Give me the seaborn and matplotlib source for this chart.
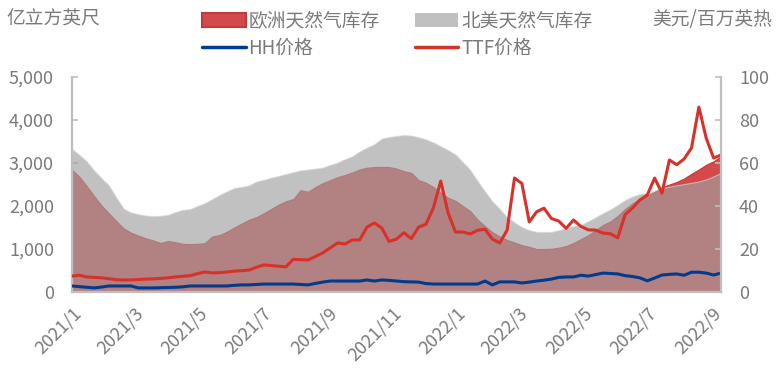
import numpy as np
import pandas as pd
import seaborn as sns
import matplotlib.pyplot as plt
import matplotlib.dates as mdates
from matplotlib.patches import Patch
from matplotlib.lines import Line2D

sns.set_theme(style='white')
plt.rcParams['font.family'] = ['Noto Sans CJK SC', 'DejaVu Sans']
plt.rcParams['axes.unicode_minus'] = False

# weekly data, starting 2021-01-01
start_date = '2021-01-01'

# European gas storage (亿立方英尺)
eu_storage = [2840, 2680, 2460, 2230, 2010, 1830, 1650, 1480, 1380, 1310,
              1250, 1200, 1140, 1185, 1160, 1120, 1115, 1120, 1135, 1290,
              1325, 1400, 1500, 1590, 1680, 1740, 1830, 1930, 2030, 2110,
              2160, 2370, 2330, 2440, 2530, 2600, 2670, 2720, 2780, 2850,
              2890, 2905, 2910, 2905, 2870, 2810, 2770, 2600, 2540, 2440,
              2310, 2190, 2120, 2000, 1880, 1680, 1530, 1390, 1290, 1210,
              1150, 1090, 1050, 1000, 1000, 1005, 1030, 1070, 1140, 1230,
              1320, 1440, 1560, 1640, 1770, 1930, 2060, 2170, 2240, 2330,
              2430, 2500, 2560, 2640, 2750, 2850, 2960, 3040, 3160]

# North American gas storage (亿立方英尺)
na_storage = [3330, 3190, 3040, 2830, 2650, 2480, 2200, 1940, 1850, 1810,
              1780, 1765, 1775, 1795, 1860, 1910, 1930, 2000, 2070, 2160,
              2260, 2340, 2420, 2445, 2480, 2570, 2610, 2660, 2700, 2745,
              2790, 2830, 2850, 2870, 2895, 2960, 3010, 3090, 3160, 3270,
              3360, 3440, 3570, 3605, 3630, 3650, 3640, 3600, 3550, 3480,
              3390, 3300, 3200, 3020, 2840, 2580, 2340, 2110, 1930, 1740,
              1620, 1510, 1440, 1400, 1395, 1400, 1440, 1490, 1530, 1560,
              1650, 1740, 1835, 1920, 2030, 2140, 2220, 2280, 2305, 2360,
              2420, 2450, 2480, 2510, 2540, 2570, 2620, 2690, 2770]

# Henry Hub price (美元/百万英热)
hh_price = [2.8, 2.5, 2.2, 1.9, 2.3, 2.8, 2.8, 2.8, 2.8, 1.9,
            1.9, 1.9, 2.0, 2.1, 2.2, 2.4, 2.8, 2.8, 2.8, 2.8,
            2.8, 2.8, 3.1, 3.3, 3.3, 3.5, 3.7, 3.7, 3.7, 3.7,
            3.7, 3.5, 3.3, 4.0, 4.6, 5.1, 5.1, 5.1, 5.1, 5.1,
            5.6, 5.1, 5.6, 5.4, 5.1, 4.8, 4.7, 4.6, 3.9, 3.7,
            3.7, 3.7, 3.7, 3.7, 3.7, 3.7, 5.1, 3.3, 4.7, 4.7,
            4.7, 4.2, 4.6, 5.1, 5.5, 6.0, 6.8, 7.0, 7.0, 7.8,
            7.4, 8.1, 8.8, 8.6, 8.4, 7.6, 7.2, 6.6, 5.2, 6.5,
            7.9, 8.2, 8.4, 7.8, 9.2, 9.2, 8.8, 7.9, 8.8]

# TTF price (美元/百万英热)
ttf_price = [7.4, 7.8, 7.0, 6.8, 6.6, 6.2, 5.7, 5.6, 5.6, 5.8,
             6.0, 6.1, 6.3, 6.6, 7.0, 7.3, 7.6, 8.5, 9.3, 8.9,
             9.0, 9.3, 9.7, 9.9, 10.2, 11.5, 12.6, 12.3, 12.0, 11.7,
             15.2, 15.0, 14.9, 16.5, 18.2, 20.5, 22.8, 22.3, 24.2, 24.2,
             30.2, 32.1, 29.8, 23.5, 24.6, 27.6, 24.8, 30.2, 31.5, 39.1,
             51.6, 36.7, 27.9, 27.9, 27.0, 28.7, 29.2, 24.6, 22.8, 28.8,
             53.0, 50.5, 32.6, 37.3, 39.0, 34.2, 33.0, 29.6, 33.5, 30.5,
             28.9, 28.8, 27.4, 27.1, 25.2, 36.0, 39.1, 42.8, 45.1, 53.0,
             46.0, 61.4, 59.2, 61.9, 67.0, 86.0, 71.5, 62.3, 63.7]

tick_months = pd.date_range('2021-01-01', '2022-09-01', freq='2MS')
tick_labels = [f'{d.year}/{d.month}' for d in tick_months]

df = pd.DataFrame({
    'date': pd.date_range(start_date, periods=len(eu_storage), freq='7D'),
    'eu': eu_storage,
    'na': na_storage,
    'hh': hh_price,
    'ttf': ttf_price,
})

txt = '#7a7a7a'
spine_c = '#bfbfbf'
red_fill = '#d44a4a'
gray_fill = '#a0a0a0'
hh_c = '#003b8e'
ttf_c = '#d8312a'

fig = plt.figure(figsize=(7.77, 3.87), dpi=100)
ax = fig.add_axes([72 / 777, 1 - 292 / 387, (721 - 72) / 777, (292 - 77) / 387])
ax2 = ax.twinx()

ax.fill_between(df['date'], 0, df['eu'], color=red_fill, edgecolor='#c23a3a',
                linewidth=0.8, zorder=1)
ax.fill_between(df['date'], 0, df['na'], color=gray_fill, alpha=0.65,
                edgecolor='#d8d8d8', linewidth=0.8, zorder=2)

sns.lineplot(data=df, x='date', y='hh', ax=ax2, color=hh_c, linewidth=2.2)
sns.lineplot(data=df, x='date', y='ttf', ax=ax2, color=ttf_c, linewidth=2.2)

ax.set_xlim(df['date'].iloc[0], df['date'].iloc[-1])
ax.set_ylim(0, 5000)
ax2.set_ylim(0, 100)
ax.set_yticks(range(0, 5001, 1000))
ax.set_yticklabels([f'{v:,}' for v in range(0, 5001, 1000)])
ax2.set_yticks(range(0, 101, 20))
ax.set_xticks(mdates.date2num(tick_months))
ax.set_xticklabels(tick_labels, rotation=45, ha='right', rotation_mode='anchor')
ax.set_xlabel('')
ax.set_ylabel('')
ax2.set_xlabel('')
ax2.set_ylabel('')

for a in (ax, ax2):
    a.grid(False)
    a.set_facecolor('none')
    for s in a.spines.values():
        s.set_visible(False)
        s.set_color(spine_c)
        s.set_linewidth(1.6)
ax.spines['left'].set_visible(True)
ax.spines['bottom'].set_visible(True)
ax2.spines['right'].set_visible(True)

ax.tick_params(axis='y', direction='in', length=4, width=1.2, color=spine_c,
               labelsize=13, labelcolor=txt, pad=13, left=True)
ax.tick_params(axis='x', direction='in', length=5, width=1.2, color=spine_c,
               labelsize=13, labelcolor=txt, pad=9, bottom=True)
ax2.tick_params(axis='y', direction='in', length=4, width=1.2, color=spine_c,
                labelsize=13, labelcolor=txt, pad=13, right=True)

fig.text(6 / 777, 1 - 19 / 387, '亿立方英尺', fontsize=13.5, color=txt, va='center')
fig.text(772 / 777, 1 - 19 / 387, '美元/百万英热', fontsize=13.5, color=txt,
         va='center', ha='right')

handles = [
    Patch(facecolor=red_fill, edgecolor='#c23a3a', linewidth=1.5),
    Line2D([], [], color=hh_c, linewidth=2.5),
    Patch(facecolor='#c0c0c0', edgecolor='none'),
    Line2D([], [], color=ttf_c, linewidth=2.5),
]
labels = ['欧洲天然气库存', 'HH价格', '北美天然气库存', 'TTF价格']
fig.legend(handles, labels, ncol=2, loc='upper left',
           bbox_to_anchor=(193 / 777, 1 - 1 / 387), frameon=False,
           fontsize=13.5, labelcolor=txt, borderpad=0, handlelength=2.3,
           handleheight=0.8, handletextpad=0.15, columnspacing=1.9,
           labelspacing=0.35)

fig.savefig('out.png', dpi=100)
